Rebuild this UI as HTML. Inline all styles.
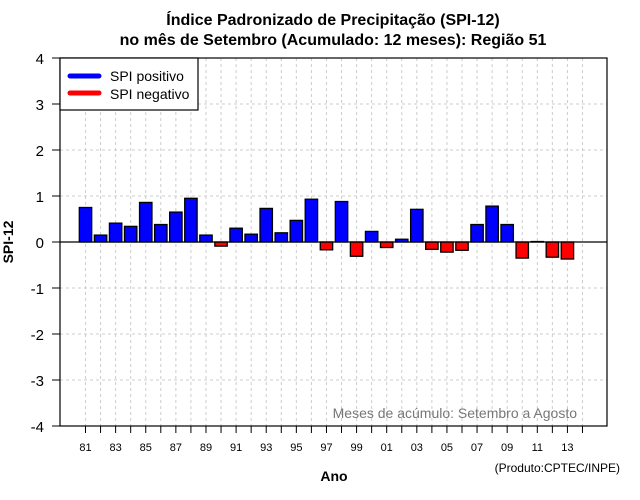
<!DOCTYPE html>
<html><head><meta charset="utf-8"><style>
body{margin:0;background:#fff}
svg{display:block;font-family:"Liberation Sans",sans-serif}
</style></head><body>
<svg id="chart" width="640" height="500">
<text x="333" y="25" text-anchor="middle" font-size="16" font-weight="bold">Índice Padronizado de Precipitação (SPI-12)</text>
<text x="333" y="45" text-anchor="middle" font-size="16" font-weight="bold">no mês de Setembro (Acumulado: 12 meses): Região 51</text>
<g id="grid"></g>
<g id="bars"></g>
<line x1="60" x2="607" y1="242" y2="242" stroke="#000" stroke-width="1.2"/>
<rect x="60" y="58" width="547" height="368" fill="none" stroke="#000" stroke-width="1.2"/>
<g id="axes"></g>
<text x="577" y="418" text-anchor="end" font-size="14" fill="#777">Meses de acúmulo: Setembro a Agosto</text>
<text transform="translate(13,242) rotate(-90)" text-anchor="middle" font-size="14" font-weight="bold">SPI-12</text>
<text x="334" y="481" text-anchor="middle" font-size="14" font-weight="bold">Ano</text>
<text x="620" y="472" text-anchor="end" font-size="12">(Produto:CPTEC/INPE)</text>
<g>
<rect x="60" y="58" width="138" height="52" fill="#fff" stroke="#000" stroke-width="1.2"/>
<line x1="70" x2="99" y1="76" y2="76" stroke="#00f" stroke-width="5" stroke-linecap="round"/>
<text x="110" y="81" font-size="14">SPI positivo</text>
<line x1="70" x2="99" y1="93" y2="93" stroke="#f00" stroke-width="5" stroke-linecap="round"/>
<text x="110" y="99" font-size="14">SPI negativo</text>
</g>
</svg>
<script>
const years = [1981,1982,1983,1984,1985,1986,1987,1988,1989,1990,1991,1992,1993,1994,1995,1996,1997,1998,1999,2000,2001,2002,2003,2004,2005,2006,2007,2008,2009,2010,2011,2012,2013];
const spiValues = [0.75,0.15,0.41,0.34,0.86,0.38,0.65,0.95,0.15,-0.09,0.30,0.17,0.73,0.20,0.47,0.93,-0.17,0.88,-0.31,0.23,-0.12,0.06,0.71,-0.16,-0.22,-0.18,0.38,0.78,0.38,-0.35,0.01,-0.33,-0.37];
const yTicks = [-4,-3,-2,-1,0,1,2,3,4];
const tickYears = [1981,1982,1983,1984,1985,1986,1987,1988,1989,1990,1991,1992,1993,1994,1995,1996,1997,1998,1999,2000,2001,2002,2003,2004,2005,2006,2007,2008,2009,2010,2011,2012,2013,2014];
const labelYears = [1981,1983,1985,1987,1989,1991,1993,1995,1997,1999,2001,2003,2005,2007,2009,2011,2013];
const NS="http://www.w3.org/2000/svg";
const xs = y => 85.5 + (y-1981)*15.06;
const ys = v => 242 - v*46;
function mk(tag, attrs, parent){const e=document.createElementNS(NS,tag);for(const k in attrs)e.setAttribute(k,attrs[k]);parent.appendChild(e);return e;}
const grid=document.getElementById('grid'), bars=document.getElementById('bars'), axes=document.getElementById('axes');
yTicks.forEach(t=>{
  if(t!==4&&t!==-4&&t!==0){const g=mk('line',{x1:60,x2:607,y1:ys(t),y2:ys(t),stroke:'#ccc','stroke-dasharray':'3,3'},grid);
  
  }
  const tk=mk('line',{x1:52,x2:60,y1:ys(t),y2:ys(t),stroke:'#000'},axes);
  
  
  const tx=mk('text',{x:44,y:ys(t)+6,'text-anchor':'end','font-size':15},axes);
  tx.textContent=t;
  
  
});
tickYears.forEach(y=>{
  const g=mk('line',{x1:xs(y),x2:xs(y),y1:58,y2:426,stroke:'#ccc','stroke-dasharray':'3,3'},grid);
  
  
  const tk=mk('line',{x1:xs(y),x2:xs(y),y1:426,y2:433,stroke:'#000'},axes);
  
  
});
labelYears.forEach(y=>{
  const tx=mk('text',{x:xs(y),y:451,'text-anchor':'middle','font-size':11},axes);
  tx.textContent=String(y%100).padStart(2,'0');
  
  
});
years.forEach((y,i)=>{
  const v=spiValues[i];
  const top=Math.min(ys(v),242), h=Math.abs(ys(v)-242);
  const r=mk('rect',{x:xs(y)-6.2,y:top,width:12.4,height:h,fill:v>=0?'#00f':'#f00',stroke:'#000','stroke-width':1.3},bars);
  
  
});
</script>
</body></html>
